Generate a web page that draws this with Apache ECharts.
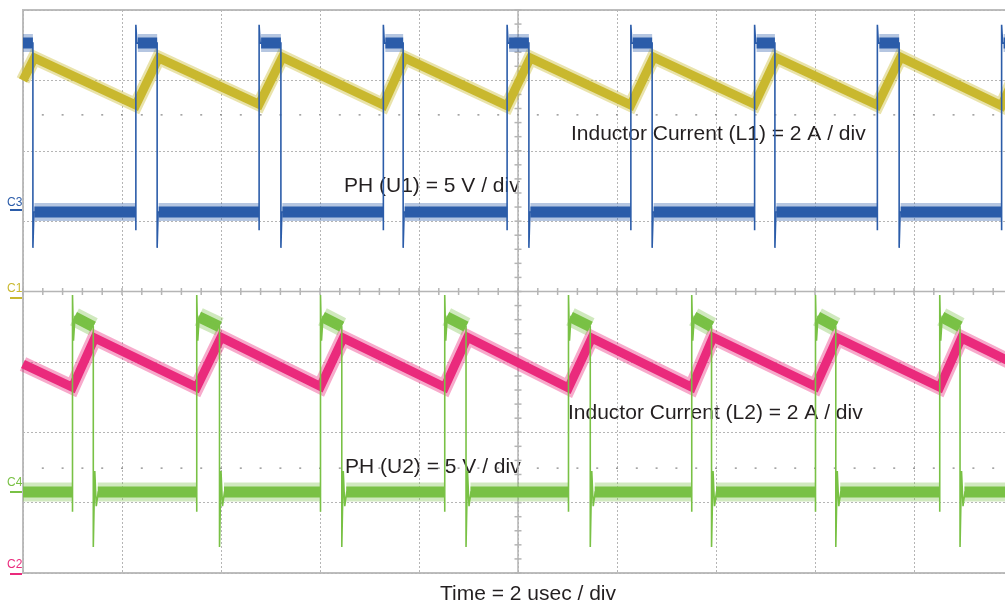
<!DOCTYPE html>
<html><head><meta charset="utf-8">
<script src="https://cdn.jsdelivr.net/npm/echarts@6/dist/echarts.min.js"></script>
<style>html,body{margin:0;padding:0;background:#fff;} #c{width:1005px;height:605px;}</style>
</head><body><div id="c"></div>
<script>
// Time axis in microseconds (2 usec / div); vertical axis in screen divisions (0 = bottom, 8 = top)
const TIME_MIN = 0, TIME_MAX = 20, DIV_MIN = 0, DIV_MAX = 8;

// PH (U1) switch node, channel C3 (5 V / div)
const u1Rise = [2.28, 4.77, 7.28, 9.78, 12.28, 14.78, 17.26, 19.77];
const u1Fall = [0.20, 2.71, 5.21, 7.68, 10.22, 12.71, 15.19, 17.70];
const u1High = [7.53, 7.53];      // plateau start, plateau end
const u1Low = [5.13];
const u1Spike = [7.79, 7.53];     // overshoot at rise, settle
const u1Dips = [4.87, 4.62];      // dip before rise, undershoot at fall
const u1Ring = [];                // no ringing after fall

// Inductor current L1, channel C1 (2 A / div)
const l1Peaks   = [7.32, 7.32, 7.33, 7.32, 7.32, 7.33, 7.32, 7.33];
const l1Valleys = [6.65, 6.66, 6.65, 6.64, 6.65, 6.66, 6.65, 6.64];
const l1Ends = [7.00, 7.00];

// PH (U2) switch node, channel C4 (5 V / div)
const u2Rise = [1.00, 3.51, 6.01, 8.52, 11.02, 13.51, 16.01, 18.52];
const u2Fall = [1.42, 3.97, 6.44, 8.95, 11.46, 13.91, 16.42, 18.93];
const u2High = [3.64, 3.50];
const u2Low = [1.15];
const u2Spike = [3.95, 3.30];
const u2Dips = [0.87, 0.37];
const u2Ring = [1.45, 0.95];

// Inductor current L2, channel C2 (2 A / div)
const l2Peaks   = [3.34, 3.35, 3.34, 3.35, 3.34, 3.35, 3.34, 3.34];
const l2Valleys = [2.64, 2.64, 2.65, 2.64, 2.63, 2.64, 2.65, 2.64];
const l2Ends = [2.97, 2.98];

// screen graticule
const crossX = 5 * 2;   // centre vertical line (usec)
const crossY = 4;       // centre horizontal line (div)
const markerRows = [6.51, 1.49];

function edges(rise, fall) {
  const e = [];
  rise.forEach(t => e.push({t: t, up: true}));
  fall.forEach(t => e.push({t: t, up: false}));
  e.sort((a, b) => a.t - b.t);
  return e;
}

function phTrace(rise, fall, high, low, spike, dips, ring) {
  const e = edges(rise, fall);
  let isHigh = !e[0].up;
  const pts = [[TIME_MIN, isHigh ? high[0] : low[0]]];
  e.forEach(ev => {
    if (ev.up) {
      pts.push([ev.t, low[0]], [ev.t, dips[0]], [ev.t, spike[0]], [ev.t + 0.02, spike[1]], [ev.t + 0.05, high[0]]);
    } else {
      pts.push([ev.t, high[1]], [ev.t, dips[1]]);
      if (ring.length) {
        pts.push([ev.t + 0.03, ring[0]], [ev.t + 0.06, ring[1]], [ev.t + 0.1, low[0]]);
      } else {
        pts.push([ev.t + 0.02, low[0]]);
      }
    }
    isHigh = ev.up;
  });
  pts.push([TIME_MAX, isHigh ? high[0] : low[0]]);
  return pts;
}

function phBand(rise, fall, high, low, ring) {
  const e = edges(rise, fall);
  let isHigh = !e[0].up;
  let start = TIME_MIN;
  const pts = [];
  const seg = (t0, t1) => {
    if (t1 <= t0) return;
    if (isHigh) pts.push([t0, high[0]], [t1, high[1]]);
    else pts.push([t0, low[0]], [t1, low[0]]);
    pts.push([t1, '-']);
  };
  e.forEach(ev => {
    seg(start, ev.t);
    isHigh = ev.up;
    start = ev.t + (ev.up ? 0.04 : (ring.length ? 0.09 : 0.03));
  });
  seg(start, TIME_MAX);
  return pts;
}

function ilTrace(rise, fall, peaks, valleys, ends) {
  const ev = [];
  rise.forEach((t, i) => ev.push([t, valleys[i]]));
  fall.forEach((t, i) => ev.push([t + 0.03, peaks[i]]));
  ev.sort((a, b) => a[0] - b[0]);
  return [[TIME_MIN, ends[0]]].concat(ev, [[TIME_MAX, ends[1]]]);
}

const BLUE = '#2b5ca9', YELLOW = '#c9b82e', PINK = '#ea2a7c', GREEN = '#79c145';
const GRID = '#b5b5b5';

function line(data, color, width, opacity) {
  return {type: 'line', data: data, symbol: 'none', showSymbol: false, silent: true, animation: false,
    lineStyle: {color: color, width: width, opacity: opacity, cap: 'butt', join: 'miter'}, z: 3};
}

const l1 = ilTrace(u1Rise, u1Fall, l1Peaks, l1Valleys, l1Ends);
const l2 = ilTrace(u2Rise, u2Fall, l2Peaks, l2Valleys, l2Ends);
const u1 = phTrace(u1Rise, u1Fall, u1High, u1Low, u1Spike, u1Dips, u1Ring);
const u2 = phTrace(u2Rise, u2Fall, u2High, u2Low, u2Spike, u2Dips, u2Ring);
const u1b = phBand(u1Rise, u1Fall, u1High, u1Low, u1Ring);
const u2b = phBand(u2Rise, u2Fall, u2High, u2Low, u2Ring);

const graticule = {
  type: 'custom', silent: true, animation: false, z: 1, data: [[crossX, crossY]],
  renderItem: function (params, api) {
    const ch = [];
    const st = {stroke: GRID, lineWidth: 1.5};
    const a = api.coord([crossX, DIV_MIN]), b = api.coord([crossX, DIV_MAX]);
    const c = api.coord([TIME_MIN, crossY]), d = api.coord([TIME_MAX, crossY]);
    ch.push({type: 'line', shape: {x1: a[0], y1: a[1], x2: b[0], y2: b[1]}, style: st});
    ch.push({type: 'line', shape: {x1: c[0], y1: c[1], x2: d[0], y2: d[1]}, style: st});
    for (let i = 0; i <= 50; i++) {
      const p = api.coord([TIME_MIN + i * 0.4, crossY]);
      ch.push({type: 'line', shape: {x1: p[0], y1: p[1] - 3.5, x2: p[0], y2: p[1] + 3.5}, style: st});
    }
    for (let i = 0; i <= 40; i++) {
      const p = api.coord([crossX, DIV_MIN + i * 0.2]);
      ch.push({type: 'line', shape: {x1: p[0] - 3.5, y1: p[1], x2: p[0] + 3.5, y2: p[1]}, style: st});
    }
    markerRows.forEach(r => {
      for (let i = 1; i < 50; i++) {
        const p = api.coord([TIME_MIN + i * 0.4, r]);
        ch.push({type: 'rect', shape: {x: p[0] - 1, y: p[1] - 0.75, width: 2, height: 1.5}, style: {fill: '#9a9a9a'}});
      }
    });
    return {type: 'group', children: ch};
  }
};

const FONT = '"Liberation Sans", Arial, sans-serif';
const TXT = '#231f20';
function label(text, x, y, align) {
  return {type: 'text', x: x, y: y, z: 0,
    style: {text: text, font: '21px ' + FONT, fill: TXT, align: align || 'left', verticalAlign: 'middle',
      textAlign: align || 'left', textVerticalAlign: 'middle'}};
}
function chan(text, color, yText, yMark) {
  return [
    {type: 'text', x: 7, y: yText, style: {text: text, font: '12px ' + FONT, fill: color, align: 'left', verticalAlign: 'middle'}},
    {type: 'line', shape: {x1: 10, y1: yMark, x2: 22, y2: yMark}, style: {stroke: color, lineWidth: 2}}
  ];
}

const chart = echarts.init(document.getElementById('c'), null, {renderer: 'canvas'});
chart.setOption({
  animation: false,
  backgroundColor: '#fff',
  grid: {left: 23, top: 10, width: 990, height: 563, outerBoundsMode: 'none', containLabel: false,
    show: true, borderColor: '#bdbdbd', borderWidth: 2},
  xAxis: {type: 'value', min: TIME_MIN, max: TIME_MAX, interval: 2,
    axisLabel: {show: false}, axisTick: {show: false}, axisLine: {show: false},
    splitLine: {show: true, lineStyle: {color: GRID, width: 1, type: [2, 2]}}},
  yAxis: {type: 'value', min: DIV_MIN, max: DIV_MAX, interval: 1,
    axisLabel: {show: false}, axisTick: {show: false}, axisLine: {show: false},
    splitLine: {show: true, lineStyle: {color: GRID, width: 1, type: [2, 2]}}},
  graphic: [
    label('Inductor Current (L1) = 2 A / div', 571, 134),
    label('PH (U1) = 5 V / div', 344, 186),
    label('Inductor Current (L2) = 2 A / div', 568, 413),
    label('PH (U2) = 5 V / div', 345, 467),
    label('Time = 2 usec / div', 528, 594, 'center')
  ].concat(chan('C3', BLUE, 203, 210), chan('C1', YELLOW, 289, 298), chan('C4', GREEN, 483, 492), chan('C2', PINK, 565, 574)),
  series: [
    graticule,
    line(l1, YELLOW, 14, 0.4),
    line(l1, YELLOW, 9, 1),
    line(u1b, BLUE, 18, 0.35),
    line(u1b, BLUE, 11, 1),
    line(u1, BLUE, 1.6, 1),
    line(l2, PINK, 15, 0.4),
    line(l2, PINK, 9, 1),
    line(u2b, GREEN, 19, 0.35),
    line(u2b, GREEN, 11, 1),
    line(u2, GREEN, 1.6, 1)
  ]
});
</script></body></html>
